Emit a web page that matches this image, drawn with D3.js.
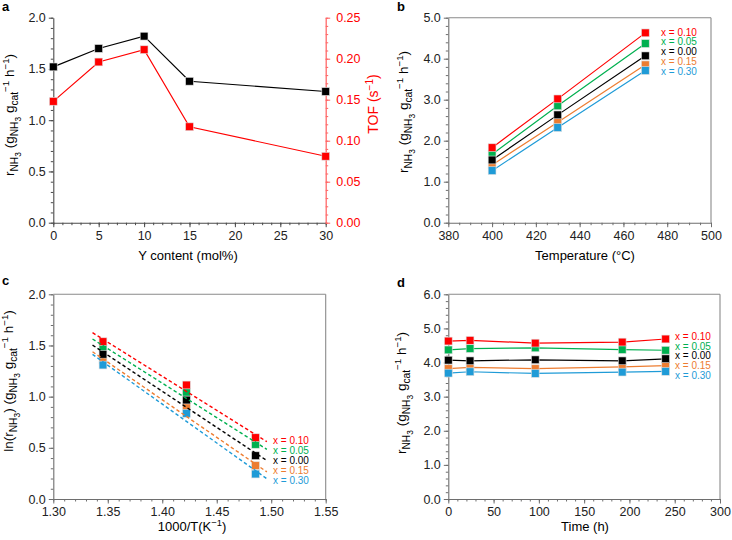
<!DOCTYPE html>
<html>
<head>
<meta charset="utf-8">
<script src="https://cdn.jsdelivr.net/npm/d3@7"></script>
<style>
  body { margin: 0; background: #fff; }
  svg text { font-family: "Liberation Sans", Arial, sans-serif; }
</style>
</head>
<body>
<svg id="chart" width="732" height="540"></svg>
<script>
// ---- data ----
// panel a
const yContent = [0, 5, 10, 15, 30];
const rateA = [1.52, 1.70, 1.82, 1.38, 1.28];
const tofA = [0.148, 0.196, 0.211, 0.117, 0.081];

// series shared by b, c, d
const seriesKeys = ['0.10', '0.05', '0.00', '0.15', '0.30'];
const seriesColors = ['#ff0000', '#00b050', '#000000', '#ed7d31', '#1f9bd7'];
const drawOrder = ['0.05', '0.15', '0.00', '0.10', '0.30'];

// panel b
const tempB = [400, 430, 470];
const rateB = {
  '0.10': [1.83, 3.02, 4.63],
  '0.05': [1.67, 2.85, 4.37],
  '0.00': [1.53, 2.63, 4.07],
  '0.15': [1.41, 2.45, 3.85],
  '0.30': [1.27, 2.32, 3.71]
};

// panel c
const invT = [1.3456, 1.4222, 1.4856];
const lnRateC = {
  '0.10': [1.537, 1.114, 0.599],
  '0.05': [1.472, 1.042, 0.534],
  '0.00': [1.414, 0.967, 0.423],
  '0.15': [1.358, 0.902, 0.326],
  '0.30': [1.309, 0.837, 0.244]
};
const fitX = [1.336, 1.496];
const fitC = {
  '0.10': [1.625, 0.56],
  '0.05': [1.563, 0.485],
  '0.00': [1.504, 0.375],
  '0.15': [1.439, 0.265],
  '0.30': [1.413, 0.198]
};

// panel d
const timeD = [0, 24, 96, 192, 240];
const rateD = {
  '0.10': [4.63, 4.65, 4.57, 4.60, 4.69],
  '0.05': [4.37, 4.41, 4.43, 4.38, 4.36],
  '0.00': [4.07, 4.05, 4.08, 4.05, 4.11],
  '0.15': [3.82, 3.86, 3.82, 3.87, 3.91],
  '0.30': [3.69, 3.73, 3.68, 3.72, 3.74]
};

const svg = d3.select('#chart');
const colorOf = k => seriesColors[seriesKeys.indexOf(k)];
const MS = 7.8; // marker size

// rich text: segments [text, level] level 0 normal, -1 sub, -2 subsub, 1 sup
function richText(g, x, y, segs, opts) {
  const size = opts.size || 13;
  const t = g.append('text')
    .attr('x', x).attr('y', y)
    .attr('text-anchor', opts.anchor || 'middle')
    .attr('fill', opts.color || '#000')
    .style('font-size', size + 'px');
  if (opts.rotate) t.attr('transform', `rotate(${opts.rotate},${x},${y})`);
  const off = { 0: 0, '-1': size * 0.3, '-2': size * 0.5, 1: -size * 0.38 };
  const fs = { 0: size, '-1': size * 0.76, '-2': size * 0.62, 1: size * 0.72 };
  let cur = 0;
  segs.forEach(([s, lv]) => {
    const target = off[lv];
    t.append('tspan')
      .attr('dy', target - cur)
      .style('font-size', fs[lv] + 'px')
      .text(s);
    cur = target;
  });
  return t;
}

function rangeStep(a, b, s) {
  const out = [];
  for (let v = a; v <= b + s * 1e-6; v += s) out.push(+v.toFixed(6));
  return out;
}

function drawAxes(g, x, y, o) {
  const col = o.axisColor || '#6e6e6e';
  // minor ticks
  g.append('g').attr('transform', `translate(0,${y.range()[0]})`)
    .call(d3.axisBottom(x).tickValues(rangeStep(x.domain()[0], x.domain()[1], o.xMinor)).tickSize(2.5).tickFormat(''))
    .call(s => { s.select('.domain').remove(); s.selectAll('line').attr('stroke', col); });
  g.append('g').attr('transform', `translate(${x.range()[0]},0)`)
    .call(d3.axisLeft(y).tickValues(rangeStep(y.domain()[0], y.domain()[1], o.yMinor)).tickSize(2.5).tickFormat(''))
    .call(s => { s.select('.domain').remove(); s.selectAll('line').attr('stroke', col); });
  // major
  const xa = g.append('g').attr('transform', `translate(0,${y.range()[0]})`)
    .call(d3.axisBottom(x).tickValues(rangeStep(x.domain()[0], x.domain()[1], o.xStep)).tickSize(4.5).tickPadding(4).tickSizeOuter(0).tickFormat(d3.format(o.xFmt)));
  const ya = g.append('g').attr('transform', `translate(${x.range()[0]},0)`)
    .call(d3.axisLeft(y).tickValues(rangeStep(y.domain()[0], y.domain()[1], o.yStep)).tickSize(4.5).tickPadding(3).tickSizeOuter(0).tickFormat(d3.format(o.yFmt)));
  [xa, ya].forEach(a => {
    a.select('.domain').attr('stroke', col).attr('stroke-width', 1.1);
    a.selectAll('line').attr('stroke', col);
    a.selectAll('text').attr('fill', '#222').style('font-size', '12.5px').style('font-family', '"Liberation Sans", Arial, sans-serif');
  });
  if (o.frame) {
    g.append('line').attr('x1', x.range()[0]).attr('x2', x.range()[1]).attr('y1', y.range()[1]).attr('y2', y.range()[1]).attr('stroke', '#8a8a8a').attr('stroke-width', 1.1);
    g.append('line').attr('x1', x.range()[1]).attr('x2', x.range()[1]).attr('y1', y.range()[0]).attr('y2', y.range()[1]).attr('stroke', '#8a8a8a').attr('stroke-width', 1.1);
  }
}

function markers(g, xs, ys, x, y, color) {
  g.selectAll(null).data(xs.map((d, i) => [d, ys[i]])).enter().append('rect')
    .attr('x', d => x(d[0]) - MS / 2).attr('y', d => y(d[1]) - MS / 2)
    .attr('width', MS).attr('height', MS)
    .attr('fill', color).attr('stroke', '#e0e0e0').attr('stroke-width', 0.6);
}

function seriesLine(g, xs, ys, x, y, color, dash) {
  const line = d3.line().x(d => x(d[0])).y(d => y(d[1]));
  g.append('path').datum(xs.map((d, i) => [d, ys[i]]))
    .attr('d', line).attr('fill', 'none').attr('stroke', color)
    .attr('stroke-width', dash ? 1.4 : 1.2)
    .attr('stroke-dasharray', dash || null);
}

function legend(g, lx, ly0, dy) {
  seriesKeys.forEach((k, i) => {
    g.append('text').attr('x', lx).attr('y', ly0 + i * dy)
      .attr('dominant-baseline', 'central')
      .attr('fill', colorOf(k)).style('font-size', '10px')
      .text('x = ' + k);
  });
}

function panelLetter(ch, x, y) {
  svg.append('text').attr('x', x).attr('y', y).style('font-size', '13px').style('font-weight', 'bold').text(ch);
}

const rLabel = [['r', 0], ['NH', -1], ['3', -2], [' (g', 0], ['NH', -1], ['3', -2], [' g', 0], ['cat', -1], ['−1', 1], [' h', 0], ['−1', 1], [')', 0]];

// ---- panel a ----
{
  const g = svg.append('g');
  const x = d3.scaleLinear().domain([0, 30]).range([53.3, 325.7]);
  const y = d3.scaleLinear().domain([0, 2]).range([222.7, 17.7]);
  const y2 = d3.scaleLinear().domain([0, 0.25]).range([222.7, 17.7]);
  drawAxes(g, x, y, { xStep: 5, xMinor: 1, yStep: 0.5, yMinor: 0.1, xFmt: 'd', yFmt: '.1f', axisColor: '#4a4a4a' });
  // right axis
  g.append('g').attr('transform', `translate(${x.range()[1]},0)`)
    .call(d3.axisRight(y2).tickValues(rangeStep(0, 0.25, 0.01)).tickSize(2.5).tickFormat(''))
    .call(s => { s.select('.domain').remove(); s.selectAll('line').attr('stroke', '#ff6060'); });
  const ra = g.append('g').attr('transform', `translate(${x.range()[1]},0)`)
    .call(d3.axisRight(y2).tickValues(rangeStep(0, 0.25, 0.05)).tickSize(4.5).tickPadding(6).tickSizeOuter(0).tickFormat(d3.format('.2f')));
  ra.select('.domain').attr('stroke', '#ff6a6a').attr('stroke-width', 1.3);
  ra.selectAll('line').attr('stroke', '#ff6060');
  ra.selectAll('text').attr('fill', '#ff0000').style('font-size', '12.5px').style('font-family', '"Liberation Sans", Arial, sans-serif');

  seriesLine(g, yContent, rateA, x, y, '#000');
  seriesLine(g, yContent, tofA, x, y2, '#ff0000');
  markers(g, yContent, rateA, x, y, '#000');
  markers(g, yContent, tofA, x, y2, '#ff0000');

  richText(svg, 188, 260, [['Y content (mol%)', 0]], {});
  richText(svg, 14, 115, rLabel, { rotate: -90, size: 13.5 });
  richText(svg, 378, 104, [['TOF (s', 0], ['−1', 1], [')', 0]], { rotate: -90, color: '#ff0000', size: 14 });
  panelLetter('a', 2, 11);
}

// ---- panel b ----
{
  const g = svg.append('g');
  const x = d3.scaleLinear().domain([380, 500]).range([448.3, 711]);
  const y = d3.scaleLinear().domain([0, 5]).range([222.7, 17.7]);
  drawAxes(g, x, y, { xStep: 20, xMinor: 5, yStep: 1, yMinor: 0.2, xFmt: 'd', yFmt: '.1f', frame: true });
  drawOrder.forEach(k => seriesLine(g, tempB, rateB[k], x, y, colorOf(k)));
  drawOrder.forEach(k => markers(g, tempB, rateB[k], x, y, colorOf(k)));
  legend(g, 661, 32, 9.9);
  richText(svg, 585, 260, [['Temperature (°C)', 0]], {});
  richText(svg, 408, 112, rLabel, { rotate: -90, size: 13.5 });
  panelLetter('b', 397, 11);
}

// ---- panel c ----
{
  const g = svg.append('g');
  const x = d3.scaleLinear().domain([1.30, 1.55]).range([53.3, 325.7]);
  const y = d3.scaleLinear().domain([0, 2]).range([499, 294.3]);
  drawAxes(g, x, y, { xStep: 0.05, xMinor: 0.01, yStep: 0.5, yMinor: 0.1, xFmt: '.2f', yFmt: '.1f', frame: true });
  drawOrder.forEach(k => markers(g, invT, lnRateC[k], x, y, colorOf(k)));
  drawOrder.forEach(k => seriesLine(g, fitX, fitC[k], x, y, colorOf(k), '3.5,2.5'));
  legend(g, 273, 440.7, 9.85);
  richText(svg, 192, 531, [['1000/T(K', 0], ['−1', 1], [')', 0]], {});
  richText(svg, 13, 381, [['ln(r', 0], ['NH', -1], ['3', -2], [') (g', 0], ['NH', -1], ['3', -2], [' g', 0], ['cat', -1], ['−1', 1], [' h', 0], ['−1', 1], [')', 0]], { rotate: -90, size: 13.5 });
  panelLetter('c', 2, 285);
}

// ---- panel d ----
{
  const g = svg.append('g');
  const x = d3.scaleLinear().domain([0, 300]).range([448.3, 720]);
  const y = d3.scaleLinear().domain([0, 6]).range([499, 294.3]);
  drawAxes(g, x, y, { xStep: 50, xMinor: 10, yStep: 1, yMinor: 0.2, xFmt: 'd', yFmt: '.1f', frame: true });
  drawOrder.forEach(k => seriesLine(g, timeD, rateD[k], x, y, colorOf(k)));
  drawOrder.forEach(k => markers(g, timeD, rateD[k], x, y, colorOf(k)));
  legend(g, 675, 336.7, 9.6);
  richText(svg, 585, 531, [['Time (h)', 0]], {});
  richText(svg, 406, 393, rLabel, { rotate: -90, size: 13.5 });
  panelLetter('d', 397, 287);
}
</script>
</body>
</html>
